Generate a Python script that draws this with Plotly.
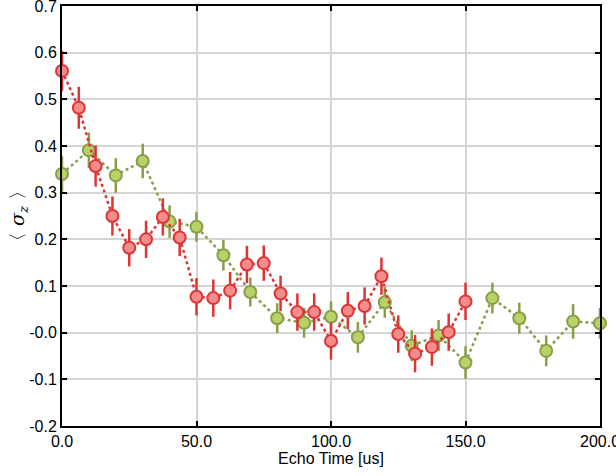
import plotly.graph_objects as go

# Echo times [us]
t_red = [0.0, 6.25, 12.5, 18.75, 25.0, 31.25, 37.5, 43.75, 50.0, 56.25, 62.5,
         68.75, 75.0, 81.25, 87.5, 93.75, 100.0, 106.25, 112.5, 118.75, 125.0,
         131.25, 137.5, 143.75, 150.0]
sz_red = [0.561, 0.482, 0.357, 0.250, 0.182, 0.200, 0.248, 0.204, 0.077, 0.074,
          0.090, 0.146, 0.149, 0.084, 0.044, 0.044, -0.018, 0.047, 0.057, 0.121,
          -0.003, -0.045, -0.031, 0.001, 0.067]
err_red = [0.043, 0.045, 0.044, 0.042, 0.040, 0.040, 0.040, 0.040, 0.040, 0.040,
           0.040, 0.040, 0.038, 0.038, 0.040, 0.040, 0.040, 0.040, 0.040, 0.040,
           0.040, 0.040, 0.040, 0.040, 0.040]

t_green = [0.0, 10.0, 20.0, 30.0, 40.0, 50.0, 60.0, 70.0, 80.0, 90.0, 100.0,
           110.0, 120.0, 130.0, 140.0, 150.0, 160.0, 170.0, 180.0, 190.0, 200.0]
sz_green = [0.340, 0.391, 0.337, 0.368, 0.238, 0.227, 0.166, 0.087, 0.031, 0.021,
            0.034, -0.010, 0.065, -0.028, -0.006, -0.064, 0.074, 0.031, -0.039,
            0.024, 0.020]
err_green = [0.038, 0.038, 0.037, 0.037, 0.035, 0.032, 0.033, 0.031, 0.032, 0.032,
             0.033, 0.033, 0.033, 0.033, 0.033, 0.035, 0.033, 0.033, 0.033, 0.037,
             0.033]

y_ticks = [0.7, 0.6, 0.5, 0.4, 0.3, 0.2, 0.1, 0.0, -0.1, -0.2]
y_tick_text = ["0.7", "0.6", "0.5", "0.4", "0.3", "0.2", "0.1", "-0.0", "-0.1", "-0.2"]
x_ticks = [0, 50, 100, 150, 200]
x_tick_text = ["0.0", "50.0", "100.0", "150.0", "200.0"]

RED_EDGE = "rgb(222,52,52)"
RED_FILL = "rgb(244,140,140)"
GREEN_EDGE = "rgb(136,158,74)"
GREEN_FILL = "rgb(184,210,104)"

SANS = "Liberation Sans, Arial, sans-serif"

fig = go.Figure()

fig.add_trace(go.Scatter(
    x=t_green, y=sz_green, mode="lines+markers",
    line=dict(color=GREEN_EDGE, width=2.5, dash="dot"),
    marker=dict(size=12, color=GREEN_FILL, line=dict(color=GREEN_EDGE, width=2)),
    error_y=dict(type="data", array=err_green, visible=True, color=GREEN_EDGE,
                 thickness=2.5, width=0),
    cliponaxis=False, showlegend=False,
))

fig.add_trace(go.Scatter(
    x=t_red, y=sz_red, mode="lines+markers",
    line=dict(color=RED_EDGE, width=2.5, dash="dot"),
    marker=dict(size=12, color=RED_FILL, line=dict(color=RED_EDGE, width=2)),
    error_y=dict(type="data", array=err_red, visible=True, color=RED_EDGE,
                 thickness=2.5, width=0),
    cliponaxis=False, showlegend=False,
))

axis_common = dict(
    showline=True, linecolor="black", linewidth=2, mirror="ticks",
    ticks="inside", ticklen=5, tickwidth=1.5, tickcolor="black",
    showgrid=True, gridcolor="rgb(212,212,212)", gridwidth=1.5,
    zeroline=False, ticklabeloverflow="allow", automargin=False,
    tickfont=dict(family=SANS, size=16, color="black"),
)

fig.update_xaxes(
    range=[0, 200.0001], tickvals=x_ticks, ticktext=x_tick_text,
    title=dict(text="Echo Time [us]", standoff=1,
               font=dict(family=SANS, size=16, color="black")),
    **axis_common,
)
fig.update_yaxes(
    range=[-0.2001, 0.7001], tickvals=y_ticks, ticktext=y_tick_text,
    title=dict(text="〈 <i>σ</i><sub><i>z</i></sub> 〉", standoff=0,
               font=dict(family="DejaVu Serif, serif", size=19, color="black")),
    **axis_common,
)

fig.update_layout(
    width=616, height=476,
    margin=dict(l=62, r=16, t=6, b=50),
    paper_bgcolor="white", plot_bgcolor="white",
)

fig.write_html("out.html")
